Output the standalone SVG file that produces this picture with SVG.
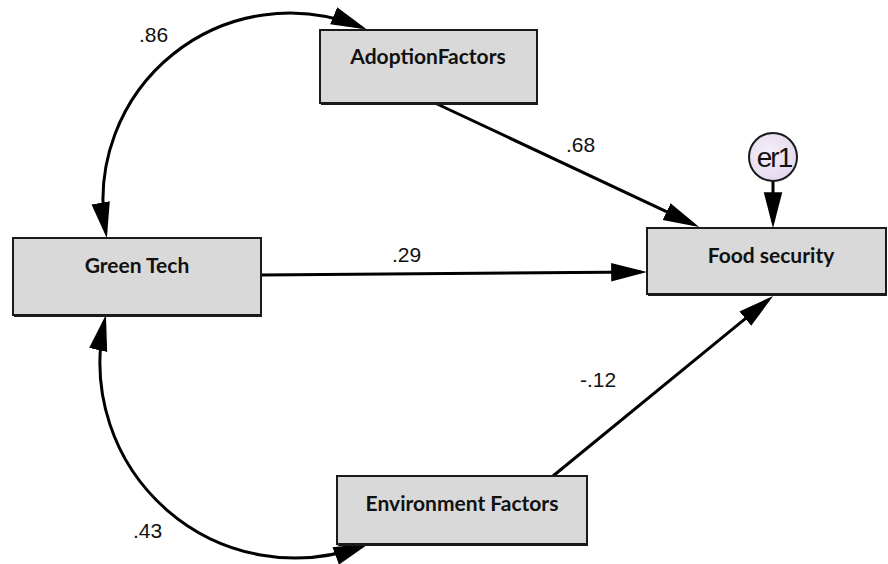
<svg xmlns="http://www.w3.org/2000/svg" width="888" height="564" viewBox="0 0 888 564">
<style>
.box{fill:#d9d9d9;stroke:#1a1a1a;stroke-width:2}
.shadow{fill:#1a1a1a}
.lbl{font-family:Lato,"Open Sans",sans-serif;font-weight:bold;font-size:21px;fill:#111;text-anchor:middle}
.num{font-family:"Liberation Sans",Arial,sans-serif;font-size:21px;fill:#111}
.conn{fill:none;stroke:#000;stroke-width:3}
</style>
<defs>
<marker id="ah" markerUnits="userSpaceOnUse" markerWidth="36" markerHeight="20" viewBox="0 0 35 18" refX="29" refY="9" orient="auto-start-reverse">
<path d="M0,0 L35,9 L0,18 z" fill="#000"/>
</marker>
<radialGradient id="eg" cx="0.4" cy="0.4" r="0.7">
<stop offset="0" stop-color="#f4eef8"/>
<stop offset="1" stop-color="#e2d6ee"/>
</radialGradient>
</defs>
<g id="connectors">
<path class="conn" d="M 361.2,27.1 A 187,187 0 0 0 105.8,232.2" marker-start="url(#ah)" marker-end="url(#ah)"/>
<path class="conn" d="M 104.6,320.8 A 195,195 0 0 0 363.6,545.5" marker-start="url(#ah)" marker-end="url(#ah)"/>
<line class="conn" x1="435" y1="103" x2="693.6" y2="224.4" marker-end="url(#ah)"/>
<line class="conn" x1="261" y1="275" x2="641" y2="272" marker-end="url(#ah)"/>
<line class="conn" x1="553" y1="476" x2="768.4" y2="299.8" marker-end="url(#ah)"/>
<line class="conn" x1="773" y1="181" x2="773" y2="222" marker-end="url(#ah)"/>
</g>
<g id="labels">
<text class="num" x="139" y="42">.86</text>
<text class="num" x="133" y="538">.43</text>
<text class="num" x="566" y="152">.68</text>
<text class="num" x="392" y="262">.29</text>
<text class="num" x="580" y="387">-.12</text>
</g>
<g id="adoption">
<rect class="shadow" x="321" y="31" width="217" height="74"/>
<rect class="box" x="320" y="30" width="217" height="73"/>
<text class="lbl" x="428" y="64">AdoptionFactors</text>
</g>
<g id="greentech">
<rect class="shadow" x="14" y="239" width="248" height="78"/>
<rect class="box" x="13" y="238" width="248" height="77"/>
<text class="lbl" x="137" y="273">Green Tech</text>
</g>
<g id="food">
<rect class="shadow" x="648" y="229" width="239" height="67"/>
<rect class="box" x="647" y="228" width="239" height="66"/>
<text class="lbl" x="771" y="263">Food security</text>
</g>
<g id="environment">
<rect class="shadow" x="338" y="477" width="250" height="69"/>
<rect class="box" x="337" y="476" width="250" height="68"/>
<text class="lbl" x="462" y="511">Environment Factors</text>
</g>
<g id="er1">
<circle cx="773" cy="157" r="24" fill="url(#eg)" stroke="#1a1a1a" stroke-width="2"/>
<text x="774" y="167" font-family="'Liberation Sans',Arial,sans-serif" font-size="28" fill="#111" text-anchor="middle" letter-spacing="-2">er1</text>
</g>
</svg>
